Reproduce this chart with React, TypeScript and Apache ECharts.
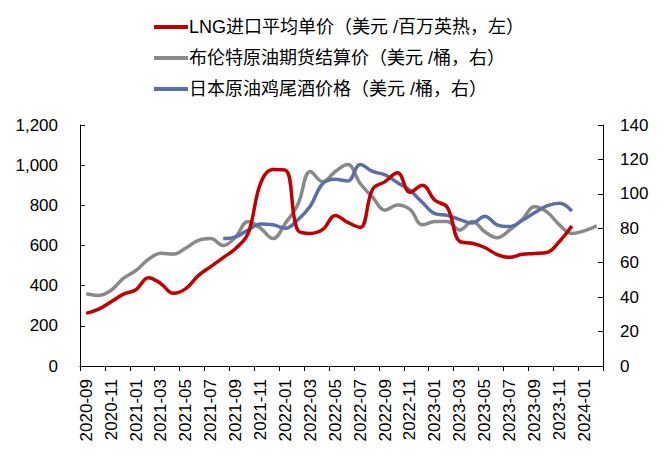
import React, { useEffect, useRef } from "react";
import * as echarts from "echarts";

const months: string[] = [
  "2020-09","2020-10","2020-11","2020-12","2021-01","2021-02","2021-03","2021-04","2021-05","2021-06",
  "2021-07","2021-08","2021-09","2021-10","2021-11","2021-12","2022-01","2022-02","2022-03","2022-04",
  "2022-05","2022-06","2022-07","2022-08","2022-09","2022-10","2022-11","2022-12","2023-01","2023-02",
  "2023-03","2023-04","2023-05","2023-06","2023-07","2023-08","2023-09","2023-10","2023-11","2023-12",
  "2024-01","2024-02",
];

// LNG import average unit price (USD/MMBtu, left)
const lngPrice: (number | null)[] = [
  262, 283, 320, 358, 380, 440, 410, 362, 385, 450,
  495, 540, 585, 660, 910, 978, 975, 675, 660, 680,
  750, 715, 690, 880, 918, 962, 865, 900, 825, 790,
  620, 611, 590, 555, 541, 556, 560, 565, 620, 697,
  null, null,
];

// Brent futures settlement (USD/bbl, right)
const brentPrice: (number | null)[] = [
  42, 41, 44, 51, 55.5, 62, 65.5, 65, 68.5, 73,
  74, 70, 75, 84, 80, 74, 83, 94, 113, 107,
  113, 117, 106, 98, 90.5, 93.5, 91, 82, 84, 84,
  79, 84, 78, 74.5, 79, 85, 92.5, 89.5, 82, 77,
  78.5, 81.5,
];

// Japan crude cocktail (USD/bbl, right)
const jccPrice: (number | null)[] = [
  null, null, null, null, null, null, null, null, null, null,
  null, 74, 75, 79, 82.5, 82, 80, 85, 93, 106,
  108.5, 107.5, 117, 113, 111, 106.5, 102, 95, 88.5, 87.5,
  85, 83, 87, 82, 81, 84.5, 89, 93, 94.5, 90,
  null, null,
];

const seriesNames = [
  "LNG进口平均单价（美元 /百万英热，左）",
  "布伦特原油期货结算价（美元 /桶，右）",
  "日本原油鸡尾酒价格（美元 /桶，右）",
];

const FONT = "Liberation Sans, Arial, Noto Sans CJK SC, sans-serif";

export default function App() {
  const ref = useRef<HTMLDivElement>(null);
  useEffect(() => {
    if (!ref.current) return;
    const chart = echarts.init(ref.current, null, { renderer: "svg" });
    const axisLine = { show: true, lineStyle: { color: "#000", width: 1 } };
    chart.setOption({
      animation: false,
      backgroundColor: "#fff",
      textStyle: { fontFamily: FONT },
      legend: {
        orient: "vertical",
        left: 149,
        top: 13,
        icon: "rect",
        itemWidth: 34,
        itemHeight: 4,
        itemGap: 13,
        textStyle: { fontSize: 18, lineHeight: 18, color: "#000", fontFamily: FONT, padding: [0, 0, 0, -4] },
        data: seriesNames,
      },
      grid: { left: 80, right: 65, top: 125, bottom: 94, containLabel: false },
      xAxis: {
        type: "category",
        data: months,
        boundaryGap: true,
        axisLine,
        axisTick: { show: true, interval: 1, inside: false, length: 5, lineStyle: { color: "#000" } },
        axisLabel: { interval: 1, rotate: 90, fontSize: 17, color: "#000", margin: 13, fontFamily: FONT },
        splitLine: { show: false },
      },
      yAxis: [
        {
          type: "value",
          min: 0,
          max: 1200,
          interval: 200,
          position: "left",
          axisLine,
          axisTick: { show: true, inside: true, length: 5, lineStyle: { color: "#000" } },
          axisLabel: {
            fontSize: 17,
            color: "#000",
            margin: 22,
            fontFamily: FONT,
            formatter: (v: number) => v.toLocaleString("en-US"),
          },
          splitLine: { show: false },
        },
        {
          type: "value",
          min: 0,
          max: 140,
          interval: 20,
          position: "right",
          axisLine,
          axisTick: { show: true, inside: true, length: 5, lineStyle: { color: "#000" } },
          axisLabel: { fontSize: 17, color: "#000", margin: 17, fontFamily: FONT },
          splitLine: { show: false },
        },
      ],
      series: [
        {
          name: seriesNames[0],
          type: "line",
          yAxisIndex: 0,
          data: lngPrice,
          smooth: 0.4,
          symbol: "none",
          lineStyle: { color: "#C00000", width: 3.5 },
          itemStyle: { color: "#C00000" },
          z: 3,
        },
        {
          name: seriesNames[1],
          type: "line",
          yAxisIndex: 1,
          data: brentPrice,
          smooth: 0.4,
          symbol: "none",
          lineStyle: { color: "#898989", width: 3.5 },
          itemStyle: { color: "#898989" },
          z: 2,
        },
        {
          name: seriesNames[2],
          type: "line",
          yAxisIndex: 1,
          data: jccPrice,
          smooth: 0.4,
          symbol: "none",
          lineStyle: { color: "#5B6EA8", width: 3.5 },
          itemStyle: { color: "#5B6EA8" },
          z: 2,
        },
      ],
    });
    return () => chart.dispose();
  }, []);
  return <div ref={ref} style={{ width: 668, height: 460, position: "absolute", left: 0, top: 0 }} />;
}
